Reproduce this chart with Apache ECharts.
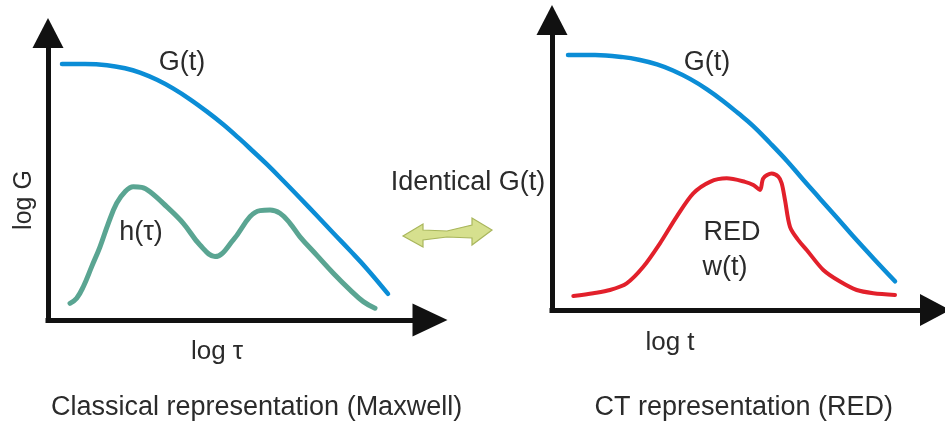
<!DOCTYPE html>
<html>
<head>
<meta charset="utf-8">
<script src="https://cdn.jsdelivr.net/npm/echarts@6/dist/echarts.min.js"></script>
<style>
  html, body { margin: 0; padding: 0; background: #ffffff; }
  #chart { width: 945px; height: 428px; }
</style>
</head>
<body>
<div id="chart"></div>
<script>
// Left panel: relaxation modulus G(t) and the Maxwell spectrum h(tau)
var leftGx = [3.66, 9.69, 15.45, 20.16, 24.08, 28.53, 32.72, 37.17, 41.62, 45.81, 50.26, 53.66, 57.33, 61.52, 65.97, 70.42, 74.61, 79.06, 83.51, 89.01];
var leftGy = [89.2, 89.2, 88.8, 87.7, 86.2, 83.7, 80.7, 76.9, 72.6, 68.2, 63.0, 58.8, 54.2, 48.6, 42.5, 36.3, 30.4, 24.2, 17.8, 9.1];
var hTauX = [5.76, 7.51, 9.24, 11.44, 13.61, 15.79, 17.98, 20.16, 22.33, 24.53, 26.70, 31.07, 35.42, 39.79, 43.72, 48.51, 52.88, 55.50, 58.12, 60.73, 63.35, 65.97, 70.34, 74.69, 79.06, 82.54, 85.60];
var hTauY = [5.8, 7.6, 11.6, 18.6, 25.5, 33.7, 40.7, 44.7, 46.4, 46.2, 44.7, 39.5, 33.7, 26.1, 22.1, 27.9, 36.0, 38.1, 38.3, 37.2, 33.7, 29.0, 22.6, 16.3, 10.5, 6.4, 4.1];

// Right panel: the same G(t) and the RED weight function w(t)
var rightGx = [4.18, 11.23, 18.54, 22.98, 27.42, 31.59, 36.03, 40.47, 44.65, 48.56, 52.48, 56.92, 61.36, 65.54, 69.97, 74.41, 78.59, 84.07, 89.56];
var rightGy = [87.9, 87.9, 87.2, 86.2, 84.7, 82.6, 79.7, 76.1, 72.1, 67.9, 63.5, 57.6, 51.4, 45.0, 38.4, 31.8, 25.5, 17.6, 9.9];
var wX = [5.56, 10.78, 15.14, 19.50, 23.84, 28.20, 32.56, 36.89, 41.25, 45.61, 50.39, 52.56, 54.31, 55.17, 57.36, 59.09, 59.97, 60.84, 62.14, 64.31, 66.50, 70.84, 75.20, 79.56, 83.89, 89.56];
var wY = [4.8, 5.8, 6.9, 9.2, 14.9, 23.0, 32.2, 40.2, 44.2, 45.4, 44.2, 43.1, 41.4, 45.4, 47.1, 46.0, 43.7, 37.9, 28.7, 24.1, 20.7, 13.8, 9.8, 6.9, 5.8, 5.2];

function pairs(xs, ys) {
  return xs.map(function (x, i) { return [x, ys[i]]; });
}

var FONT = 'Liberation Sans, Arial, sans-serif';
var TEXT = '#2b2b2b';

function axis(gridIndex, arrowSize) {
  return {
    gridIndex: gridIndex,
    type: 'value',
    min: 0,
    max: 100,
    axisLine: {
      show: true,
      symbol: ['none', 'triangle'],
      symbolSize: arrowSize,
      lineStyle: { color: '#111111', width: 5, cap: 'square' }
    },
    axisTick: { show: false },
    axisLabel: { show: false },
    splitLine: { show: false }
  };
}

function curve(name, xi, data, color, width, smooth) {
  return {
    name: name,
    type: 'line',
    xAxisIndex: xi,
    yAxisIndex: xi,
    data: data,
    smooth: smooth,
    showSymbol: false,
    silent: true,
    lineStyle: { color: color, width: width, cap: 'round', join: 'round' },
    z: 3
  };
}

function label(text, x, y, size, opts) {
  var o = {
    type: 'text',
    x: x,
    y: y,
    style: {
      text: text,
      fill: TEXT,
      font: 'normal ' + size + 'px ' + FONT,
      textAlign: 'center',
      textVerticalAlign: 'middle'
    },
    z: 10
  };
  if (opts) {
    for (var k in opts) {
      if (k === 'style') { for (var s in opts.style) o.style[s] = opts.style[s]; }
      else o[k] = opts[k];
    }
  }
  return o;
}

var chart = echarts.init(document.getElementById('chart'), null, { renderer: 'canvas' });

chart.setOption({
  animation: false,
  backgroundColor: '#ffffff',
  grid: [
    { left: 48, top: 33, width: 382, height: 287 },
    { left: 552, top: 20, width: 383, height: 290 }
  ],
  xAxis: [axis(0, [33, 35]), axis(1, [32, 30])],
  yAxis: [axis(0, [31, 30]), axis(1, [31, 30])],
  series: [
    curve('G(t)', 0, pairs(leftGx, leftGy), '#0b8dd6', 4.5, 0.4),
    curve('h(τ)', 0, pairs(hTauX, hTauY), '#5aa592', 5, 0.4),
    curve('G(t)', 1, pairs(rightGx, rightGy), '#0b8dd6', 4.5, 0.4),
    curve('w(t)', 1, pairs(wX, wY), '#e2202b', 4, 0.3)
  ],
  graphic: [
    label('G(t)', 182, 63, 27),
    label('h(τ)', 141, 233, 27),
    label('log G', 24, 200, 25, { rotation: Math.PI / 2 }),
    label('log τ', 217, 352, 26),
    label('Identical G(t)', 468, 183, 27),
    label('G(t)', 707, 63, 27),
    label('RED', 732, 233, 27),
    label('w(t)', 725, 268, 27),
    label('log t', 670, 343, 26),
    label('Classical representation (Maxwell)', 51, 408, 27, { style: { textAlign: 'left' } }),
    label('CT representation (RED)', 893, 408, 27, { style: { textAlign: 'right' } }),
    // double-headed arrow between the panels
    {
      type: 'polygon',
      shape: {
        points: [
          [403, 236], [423, 224], [423, 230], [447, 231], [472, 225], [472, 218],
          [492, 230], [472, 245], [472, 238], [447, 237], [423, 240], [423, 247]
        ],
        smooth: 0
      },
      style: { fill: '#d6e08e', stroke: '#a9b65c', lineWidth: 1.2 },
      z: 10
    }
  ]
});
</script>
</body>
</html>
